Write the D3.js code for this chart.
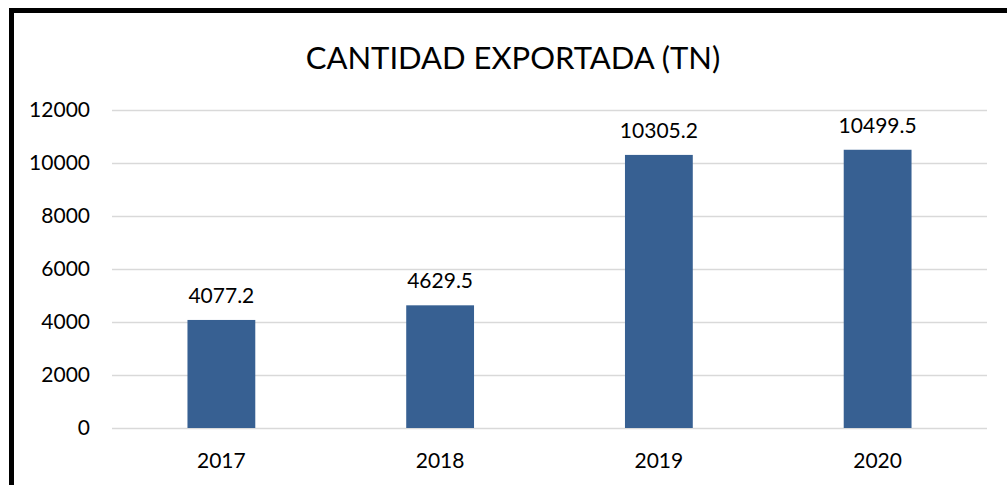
<!DOCTYPE html>
<html>
<head>
<meta charset="utf-8">
<script src="https://cdn.jsdelivr.net/npm/d3@7"></script>
<style>
  body { margin: 0; background: #fff; }
  svg { display: block; font-family: "Lato", "Open Sans", sans-serif; }
</style>
</head>
<body>
<div id="chart"></div>
<script>
// data
var years = ["2017", "2018", "2019", "2020"];
var cantidad = [4077.2, 4629.5, 10305.2, 10499.5];
var yTicks = [0, 2000, 4000, 6000, 8000, 10000, 12000];

var width = 1007, height = 485;
var plotLeft = 112, plotRight = 987, plotTop = 110, plotBottom = 428;

var svg = d3.select("#chart").append("svg")
	.attr("width", width)
	.attr("height", height);

// frame
svg.append("path")
	.attr("d", "M11.5,485 L11.5,10.5 L1007,10.5")
	.attr("fill", "none")
	.attr("stroke", "#000")
	.attr("stroke-width", 5);

svg.append("text")
	.attr("x", 513)
	.attr("y", 69)
	.attr("text-anchor", "middle")
	.attr("font-size", 31)
	.attr("fill", "#000")
	.text("CANTIDAD EXPORTADA (TN)");

var x = d3.scaleBand().domain(years).range([plotLeft, plotRight]).paddingInner(0.69).paddingOuter(0.345);
var y = d3.scaleLinear().domain([0, 12000]).range([plotBottom, plotTop]);

// grid
svg.append("g").selectAll("line")
	.data(yTicks)
	.join("line")
	.attr("x1", plotLeft).attr("x2", plotRight)
	.attr("y1", d => Math.round(y(d)) + 0.5).attr("y2", d => Math.round(y(d)) + 0.5)
	.attr("stroke", "#d9d9d9")
	.attr("stroke-width", 1.5);

// y labels
svg.append("g").selectAll("text")
	.data(yTicks)
	.join("text")
	.attr("x", 90)
	.attr("y", d => y(d) + 7)
	.attr("text-anchor", "end")
	.attr("font-size", 21)
	.text(d => d);

// bars
svg.append("g").selectAll("rect")
	.data(cantidad)
	.join("rect")
	.attr("x", (d, i) => x(years[i]))
	.attr("width", x.bandwidth())
	.attr("y", d => y(d))
	.attr("height", d => y(0) - y(d))
	.attr("fill", "#376092");

// value labels
svg.append("g").selectAll("text")
	.data(cantidad)
	.join("text")
	.attr("x", (d, i) => x(years[i]) + x.bandwidth() / 2)
	.attr("y", d => y(d) - 17)
	.attr("text-anchor", "middle")
	.attr("font-size", 21)
	.text(d => d.toFixed(1));

// x labels
svg.append("g").selectAll("text")
	.data(years)
	.join("text")
	.attr("x", d => x(d) + x.bandwidth() / 2)
	.attr("y", 468)
	.attr("text-anchor", "middle")
	.attr("font-size", 21)
	.text(d => d);
</script>
</body>
</html>
